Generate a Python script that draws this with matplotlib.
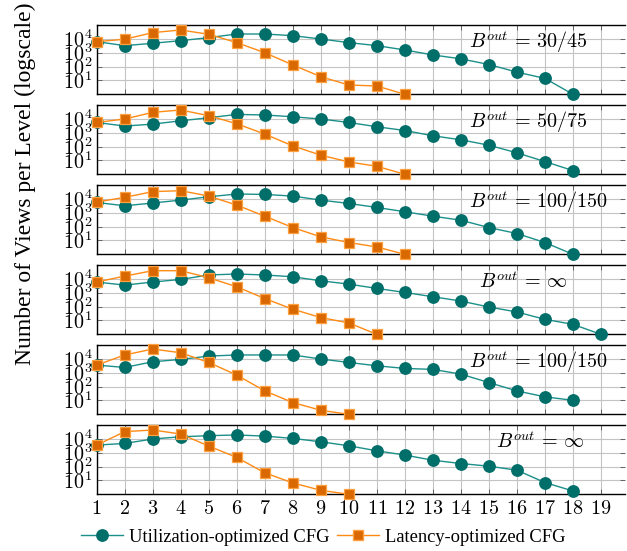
import numpy as np
import matplotlib
matplotlib.use('Agg')
import matplotlib.pyplot as plt
from matplotlib.ticker import FixedLocator, FuncFormatter, NullLocator
import matplotlib.transforms as mtransforms

# level index on the x axis
levels = list(range(1, 20))

# log10(number of views) per level
util_log10 = [
    [3.80, 3.51, 3.68, 3.87, 4.09, 4.35, 4.35, 4.23, 3.99, 3.73, 3.51, 3.20, 2.84, 2.56, 2.15, 1.60, 1.15, 0.0],
    [3.74, 3.48, 3.62, 3.86, 4.08, 4.32, 4.28, 4.15, 3.99, 3.74, 3.43, 3.16, 2.78, 2.49, 2.10, 1.55, 0.92, 0.27],
    [3.74, 3.50, 3.70, 3.91, 4.15, 4.35, 4.32, 4.20, 3.91, 3.67, 3.38, 3.07, 2.75, 2.46, 1.93, 1.50, 0.85, 0.0],
    [3.77, 3.55, 3.77, 3.96, 4.28, 4.35, 4.28, 4.15, 3.86, 3.62, 3.31, 3.02, 2.71, 2.40, 1.97, 1.61, 1.08, 0.72, 0.0],
    [3.55, 3.38, 3.79, 3.96, 4.20, 4.28, 4.28, 4.28, 3.99, 3.74, 3.50, 3.31, 3.24, 2.90, 2.29, 1.69, 1.26, 1.01],
    [3.55, 3.67, 3.99, 4.15, 4.23, 4.28, 4.20, 4.03, 3.79, 3.50, 3.14, 2.83, 2.46, 2.22, 2.03, 1.74, 0.85, 0.24],
]
lat_log10 = [
    [3.80, 3.97, 4.45, 4.64, 4.33, 3.73, 3.00, 2.12, 1.27, 0.67, 0.60, 0.0],
    [3.74, 3.99, 4.47, 4.64, 4.23, 3.65, 2.90, 2.05, 1.38, 0.89, 0.58, 0.0],
    [3.77, 4.11, 4.52, 4.59, 4.20, 3.55, 2.75, 1.93, 1.26, 0.85, 0.53, 0.0],
    [3.77, 4.20, 4.59, 4.59, 4.08, 3.43, 2.58, 1.81, 1.21, 0.82, 0.0],
    [3.55, 4.28, 4.71, 4.44, 3.74, 2.83, 1.69, 0.85, 0.29, 0.0],
    [3.55, 4.52, 4.64, 4.35, 3.48, 2.66, 1.55, 0.82, 0.29, 0.0],
]
panel_labels = [r'$B^{out}\,=\,30/45$', r'$B^{out}\,=\,50/75$', r'$B^{out}\,=\,100/150$',
                r'$B^{out}\,=\,\infty$', r'$B^{out}\,=\,100/150$', r'$B^{out}\,=\,\infty$']
label_x = [14.3, 14.3, 14.3, 14.65, 14.3, 15.25]

plt.rcParams['mathtext.fontset'] = 'cm'
plt.rcParams['font.family'] = 'Liberation Serif'

W, H = 627, 551
fig = plt.figure(figsize=(W / 100, H / 100), dpi=100)

teal_fill = '#006e69'
teal_line = '#1b8f89'
orng_fill = '#d96800'
orng_edge = '#ffa040'
orng_line = '#ff8a14'

left_px, right_px = 96.7, 625.0
ax_h = 69.3
for i in range(6):
    top = 25 + 80 * i
    ax = fig.add_axes([left_px / W, 1 - (top + ax_h) / H, (right_px - left_px) / W, ax_h / H])
    u = 10 ** np.array(util_log10[i])
    l = 10 ** np.array(lat_log10[i])
    ax.plot(levels[:len(u)], u, color=teal_line, lw=1.0, marker='o', ms=8.2,
            mfc=teal_fill, mec=teal_fill, clip_on=False, zorder=3)
    ax.plot(levels[:len(l)], l, color=orng_line, lw=1.0, marker='s', ms=7.6,
            mfc=orng_fill, mec=orng_edge, mew=0.9, clip_on=False, zorder=4)
    ax.set_yscale('log')
    ax.set_ylim(1, 1e5)
    ax.set_xlim(1, 19.86)
    ax.xaxis.set_major_locator(FixedLocator(levels))
    ax.yaxis.set_major_locator(FixedLocator([1e1, 1e2, 1e3, 1e4]))
    ax.yaxis.set_minor_locator(NullLocator())
    ax.yaxis.set_major_formatter(FuncFormatter(lambda v, p: r'$10^{%d}$' % round(np.log10(v))))
    if i == 5:
        ax.xaxis.set_major_formatter(FuncFormatter(lambda v, p: r'$%d$' % v))
    else:
        ax.xaxis.set_major_formatter(FuncFormatter(lambda v, p: ''))
    ax.grid(True, color='#c4c4c4', lw=0.8)
    ax.set_axisbelow(True)
    ax.tick_params(direction='in', length=3.5, width=0.6, color='#555555',
                   top=True, right=True, labelsize=14.5, pad=4)
    ax.tick_params(axis='y', pad=3)
    for s in ax.spines.values():
        s.set_linewidth(1.0)
    ax.spines['right'].set_visible(False)
    tr = mtransforms.blended_transform_factory(ax.transData, ax.transAxes)
    ax.text(label_x[i], 0.75, panel_labels[i], transform=tr, fontsize=14.5,
            ha='left', va='center')
    if i == 5:
        h1, = ax.plot([], [], color=teal_line, lw=1.0, marker='o', ms=8.2, mfc=teal_fill, mec=teal_fill)
        h2, = ax.plot([], [], color=orng_line, lw=1.0, marker='s', ms=7.6, mfc=orng_fill, mec=orng_edge)
        fig.legend([h1, h2], ['Utilization-optimized CFG', 'Latency-optimized CFG'],
                   loc='center', bbox_to_anchor=(323 / W, 1 - 537 / H), ncol=2,
                   frameon=False, fontsize=13.3, handlelength=2.3, handletextpad=0.3,
                   columnspacing=0.4)

fig.text(25 / W, 1 - 184 / H, 'Number of Views per Level (logscale)', rotation=90,
         ha='center', va='center', fontsize=17)

fig.savefig('out.png', dpi=100)
